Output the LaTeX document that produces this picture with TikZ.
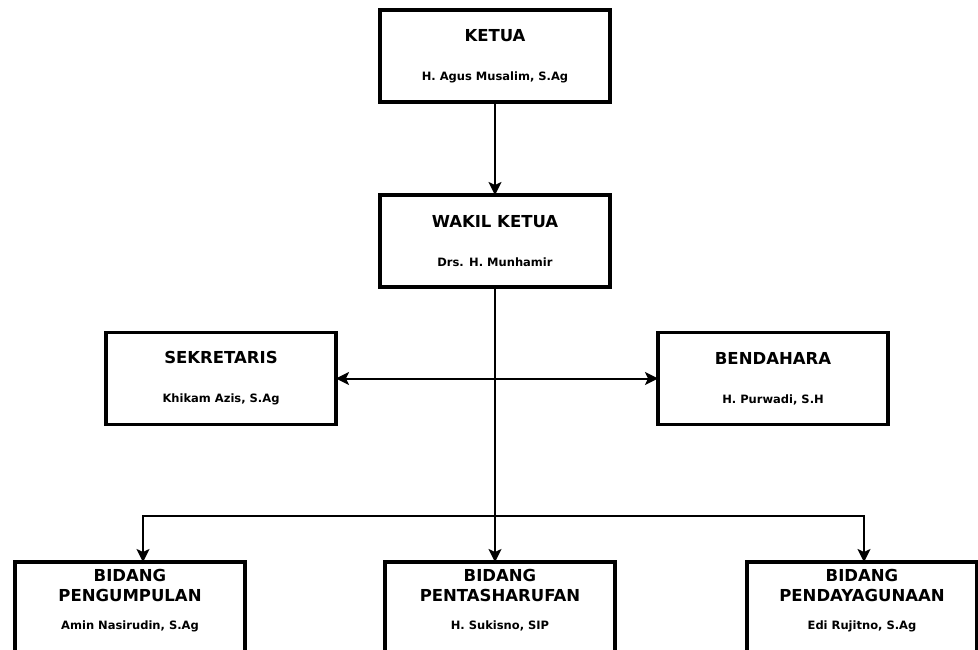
\documentclass[tikz,border=0pt]{standalone}
\usepackage{fontspec}
\setmainfont{DejaVu Sans}
\usetikzlibrary{arrows.meta,positioning}

\newcommand{\namefont}{\fontsize{11.5}{13}\selectfont}

\begin{document}
\begin{tikzpicture}[x=1pt, y=-1pt, node distance=93pt,
    unitbox/.style={rectangle, draw, line width=3.5pt, outer sep=0pt, minimum width=230pt, minimum height=92pt, align=center, font=\bfseries\fontsize{16.5}{20}\selectfont},
    bidangbox/.style={unitbox, minimum height=0pt, anchor=north, inner ysep=7pt, text depth=45pt},
    link/.style={line width=2pt, -{Stealth[length=13pt, width=13pt, inset=3pt]}},
    bilink/.style={line width=2pt, {Stealth[length=13pt, width=13pt, inset=3pt]}-{Stealth[length=13pt, width=13pt, inset=3pt]}}]
    \clip (0,0) rectangle (978,650);

    \node[unitbox] (ketua) at (495,56) {KETUA\\[19pt]{\namefont H. Agus Musalim, S.Ag}};
    
    \node[unitbox, below=of ketua] (wakil) {WAKIL KETUA\\[19pt]{\namefont Drs. H. Munhamir}};
    
    \node[unitbox] (sekretaris) at (221,378.5) {SEKRETARIS\\[19pt]{\namefont Khikam Azis, S.Ag}};
    
    \node[unitbox, right=322pt of sekretaris] (bendahara) {BENDAHARA\\[19pt]{\namefont H. Purwadi, S.H}};
    
    \node[bidangbox] (pengumpulan) at (130,562) {BIDANG\\PENGUMPULAN\\[8pt]{\namefont Amin Nasirudin, S.Ag}};
    
    \node[bidangbox] (pentasharufan) at (500,562) {BIDANG\\PENTASHARUFAN\\[8pt]{\namefont H. Sukisno, SIP}};
    
    \node[bidangbox] (pendayagunaan) at (862,562) {BIDANG\\PENDAYAGUNAAN\\[8pt]{\namefont Edi Rujitno, S.Ag}};
    
    \coordinate[below=229pt of wakil.south] (split);
    
    \draw[link] (ketua) -- (wakil);
    \draw[bilink] (sekretaris) -- (bendahara);
    \draw[link] (wakil) -- (wakil |- pentasharufan.north);
    \draw[link] (split) -| ([xshift=13pt]pengumpulan.north);
    \draw[link] (split) -| ([xshift=2pt]pendayagunaan.north);
\end{tikzpicture}
\end{document}
